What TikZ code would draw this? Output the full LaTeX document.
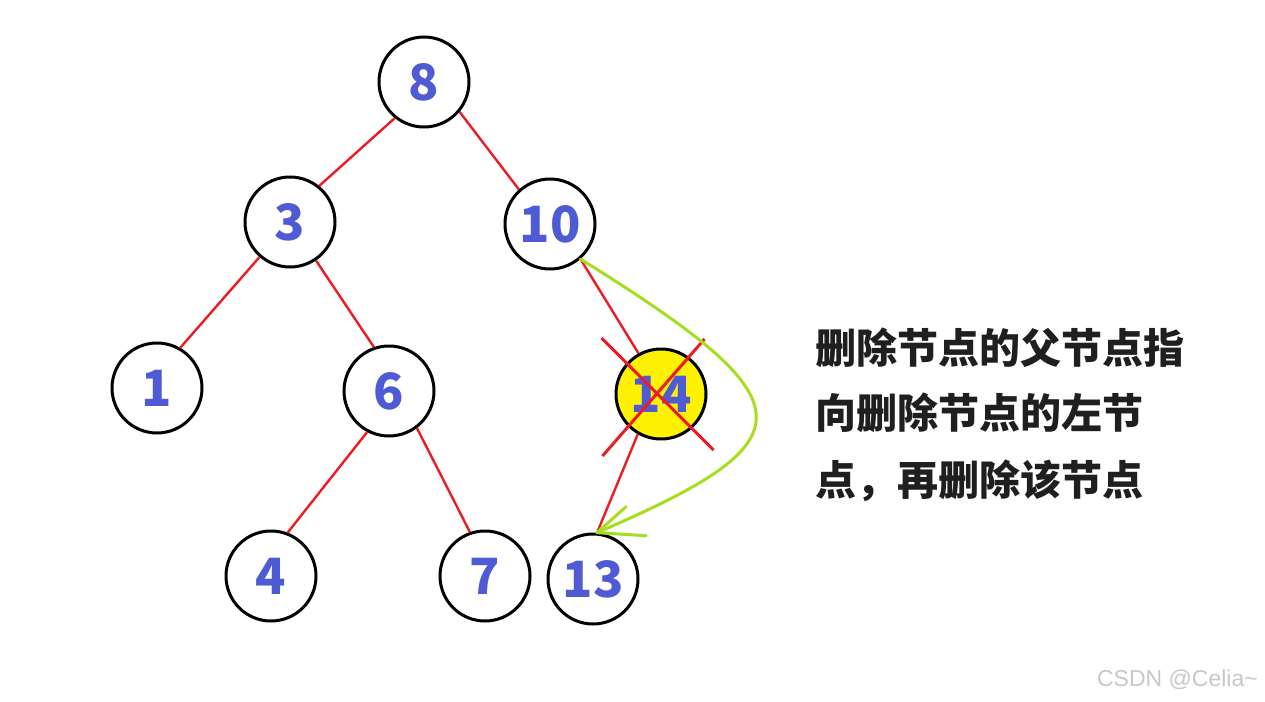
\documentclass[tikz,border=0pt]{standalone}
\usepackage{fontspec}
\setmainfont{Noto Sans}
\newfontfamily\cjk{Noto Sans CJK SC}
\newfontfamily\wm{Liberation Sans}
\usetikzlibrary{calc}
\definecolor{numblue}{RGB}{79,91,213}
\definecolor{edgered}{RGB}{237,28,36}
\definecolor{arrgreen}{RGB}{166,222,32}
\definecolor{hiyellow}{RGB}{255,242,0}
\definecolor{wmgrey}{RGB}{200,200,200}
\begin{document}
\begin{tikzpicture}[x=1pt,y=-1pt,
  treenode/.style={circle,draw=black,line width=3pt,minimum size=90pt,inner sep=0pt,
    font=\cjk\bfseries\fontsize{50}{50}\selectfont,text=numblue},
  edge/.style={draw=edgered,line width=2.4pt},
  crossline/.style={draw=edgered,line width=3pt},
  moveline/.style={draw=arrgreen,line width=3pt,line cap=round},
  note/.style={anchor=west,inner sep=0pt,font=\cjk\bfseries\fontsize{41}{41}\selectfont,text=black!88}
]
\useasboundingbox[fill=white] (0,0) rectangle (1265,701);
\node[treenode] (n8) at (424,82) {8};
\node[treenode] (n3) at (290,222) {3};
\node[treenode] (n10) at (550,224) {10};
\node[treenode] (n1) at (157,388) {1};
\node[treenode] (n6) at (389,391) {6};
\node[treenode,fill=hiyellow] (n14) at (661,394) {14};
\node[treenode] (n4) at (271,576) {4};
\node[treenode] (n7) at (485,576) {7};
\node[treenode] (n13) at (593,579) {13};
\draw[edge] (n8.231) -- (n3.51);
\draw[edge] (n8.320) -- (n10.132);
\draw[edge] (n3.229) -- (n1.60);
\draw[edge] (n3.304) -- (n6.109);
\draw[edge] (n6.242) -- (n4.69);
\draw[edge] (n6.307) -- (n7.109);
\draw[edge] (n10.311) -- (n14.119);
\draw[edge] (n14.240) -- (n13.85);
% cross over node 14
\draw[crossline] ($(n14)+(-59.5,-56)$) -- ($(n14)+(52.5,56)$);
\draw[crossline] ($(n14)+(43.5,-55)$) -- ($(n14)+(-58.5,62)$);
% green curved arrow
\draw[moveline] (n10.311) .. controls (812,403) and (812,440) .. (n13.85);
\draw[moveline] (n13.85) -- ++(29,-26);
\draw[moveline] (n13.85) -- ++(49,3);
% note
\node[note] (t1) at (815,348) {删除节点的父节点指};
\node[note] (t2) at (815,413) {向删除节点的左节};
\node[note] (t3) at (815,481) {点，再删除该节点};
\node[anchor=east,inner sep=0pt,text=wmgrey,font=\wm\fontsize{23}{23}\selectfont] (wm) at (1258,680) {CSDN @Celia\textasciitilde};
\end{tikzpicture}
\end{document}
